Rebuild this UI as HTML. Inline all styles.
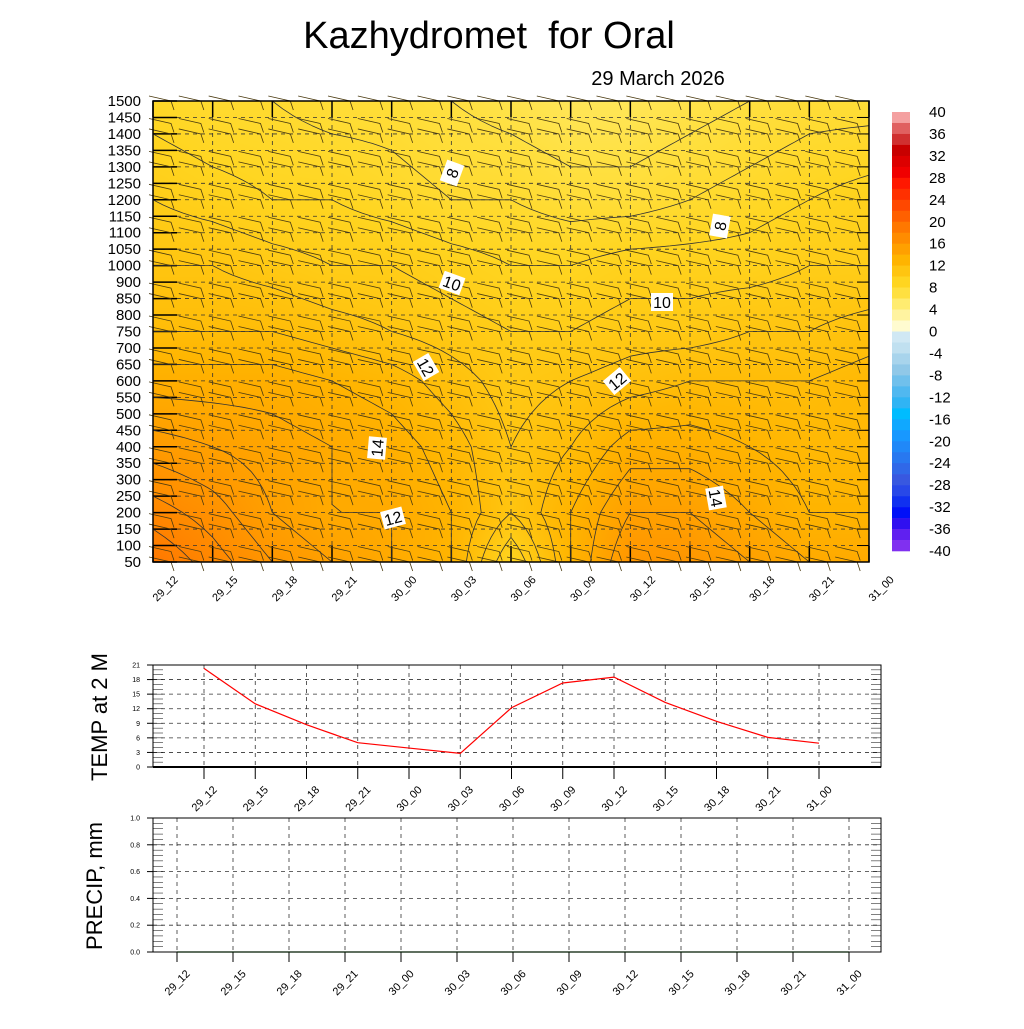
<!DOCTYPE html>
<html><head><meta charset="utf-8"><style>
body{margin:0;background:#fff;font-family:"Liberation Sans",sans-serif}
svg text{font-family:"Liberation Sans",sans-serif}
</style></head><body>
<svg id="s" width="1024" height="1024" xmlns="http://www.w3.org/2000/svg">
<text x="489" y="48" font-size="38" text-anchor="middle" xml:space="preserve" style="white-space:pre">Kazhydromet  for Oral</text>
<text x="658" y="85" font-size="20" text-anchor="middle">29 March 2026</text>
<foreignObject x="153" y="101" width="716" height="461"><canvas xmlns="http://www.w3.org/1999/xhtml" id="cv" width="716" height="461"></canvas></foreignObject>
<g id="main"></g>
<g id="cbar"></g>
<g id="temp"></g>
<g id="prec"></g>
<text transform="translate(107,717) rotate(-90)" font-size="22" text-anchor="middle">TEMP at 2 M</text>
<text transform="translate(102,886) rotate(-90)" font-size="22" text-anchor="middle">PRECIP, mm</text>
</svg>
<script>
const times=["29_12","29_15","29_18","29_21","30_00","30_03","30_06","30_09","30_12","30_15","30_18","30_21","31_00"];
const levels=["1500","1450","1400","1350","1300","1250","1200","1150","1100","1050","1000","900","850","800","750","700","650","600","550","500","450","400","350","300","250","200","150","100","50"];
// temperature field rows at label index (0=1500 ... 28=50)
const fieldRowIdx=[0,6,10,14,17,21,25,28];
const fieldT=[
[8.5,8,8,7.5,7.5,7,6.5,6,6,6.5,7,7.5,7.5],
[10,9.5,9,9,8.5,8,8,7.5,7.5,8,8.5,9,9.5],
[11,11,10.5,10,10,9.5,9,9,9.5,9.5,9.5,10,10],
[12,12,12,11.5,11,10.5,10,10,10.5,10.5,11,11,11.5],
[13.5,13.5,13.5,13,12.5,11.5,10.5,11,11.5,12,12,12,12.5],
[15.5,15,14.5,14,13.5,12.5,11,12,13.5,13.5,13,12.5,12.5],
[17.5,16.5,15,14,14,13,11,13,15,15,14,13,13],
[19,17.5,16,15,14,13,9,13,16,16,15,14,14]];
const t2m=[20.3,13,8.7,5,3.9,2.8,12.2,17.3,18.5,13.3,9.4,6.1,4.9];
const precip=[0,0,0,0,0,0,0,0,0,0,0,0,0];
const cbLabels=[40,36,32,28,24,20,16,12,8,4,0,-4,-8,-12,-16,-20,-24,-28,-32,-36,-40];
const posCols=["#fffbd0","#fff3a0","#ffec70","#ffe040","#ffd520","#ffc510","#ffb400","#ffa000","#ff8c00","#ff7800","#ff6000","#ff4800","#ff3000","#ff1800","#f00000","#dd0000","#c80000","#d03030","#e06060","#f4a0a0"];
const negCols=["#d0e8f4","#c0e0f0","#a8d4ec","#90c8e8","#70c0ec","#50b8f0","#30b4f4","#00bcff","#10a8ff","#1898ff","#2088f8","#2878f0","#3068e8","#3858e0","#2848e8","#1030f0","#0010f8","#3010f0","#6020f0","#8030f0"];
const NS="http://www.w3.org/2000/svg";
function el(p,t,a){const e=document.createElementNS(NS,t);for(const k in a)e.setAttribute(k,a[k]);p.appendChild(e);return e;}
const MX0=153,MX1=869,MY0=101,MY1=562;
const mx=i=>MX0+i*(MX1-MX0)/(times.length-1);
const my=i=>MY0+i*(MY1-MY0)/(levels.length-1);
function hex(c){return [parseInt(c.slice(1,3),16),parseInt(c.slice(3,5),16),parseInt(c.slice(5,7),16)];}
function tcol(t){
 let arr=t>=0?posCols:negCols;let v=Math.abs(t)/2-0.5;v=Math.max(0,Math.min(arr.length-1,v));
 const i=Math.floor(v),f=v-i,a=hex(arr[i]),b=hex(arr[Math.min(i+1,arr.length-1)]);
 return a.map((x,k)=>x+(b[k]-x)*f);}
function fieldAt(xi,yi){
 let r=0;while(r<fieldRowIdx.length-2&&yi>fieldRowIdx[r+1])r++;
 const fy=Math.max(0,Math.min(1,(yi-fieldRowIdx[r])/(fieldRowIdx[r+1]-fieldRowIdx[r])));
 let c=Math.min(times.length-2,Math.floor(xi));const fx=xi-c;
 const a=fieldT[r][c]*(1-fx)+fieldT[r][c+1]*fx,b=fieldT[r+1][c]*(1-fx)+fieldT[r+1][c+1]*fx;
 return a*(1-fy)+b*fy;}
const cv=document.getElementById('cv'),ctx=cv.getContext('2d'),img=ctx.createImageData(716,461);
for(let y=0;y<461;y++)for(let x=0;x<716;x++){
 const t=fieldAt(x/715*(times.length-1),y/460*(levels.length-1)),c=tcol(t),o=(y*716+x)*4;
 img.data[o]=c[0];img.data[o+1]=c[1];img.data[o+2]=c[2];img.data[o+3]=255;}
ctx.putImageData(img,0,0);
const g=document.getElementById('main');
levels.forEach((l,i)=>{
 const y=my(i);
 const gl=el(g,'line',{x1:MX0,x2:MX1,y1:y,y2:y,stroke:'#333','stroke-width':0.8,'stroke-dasharray':'4,4'});
 
 el(g,'line',{x1:MX0,x2:MX0+24,y1:y,y2:y,stroke:'#000','stroke-width':1.5});
 el(g,'line',{x1:MX1-12,x2:MX1,y1:y,y2:y,stroke:'#000','stroke-width':1});
 const t=el(g,'text',{x:MX0-12,y:y+5,'font-size':15,'text-anchor':'end'});t.textContent=l;
 
});
times.forEach((tm,i)=>{
 const x=mx(i);
 el(g,'line',{x1:x,x2:x,y1:MY0,y2:MY1,stroke:'#333','stroke-width':0.8,'stroke-dasharray':'4,4'});
 el(g,'line',{x1:x,x2:x,y1:MY0,y2:MY0+16,stroke:'#000','stroke-width':1.5});
 el(g,'line',{x1:x,x2:x,y1:MY1-16,y2:MY1,stroke:'#000','stroke-width':1.5});
 const t=el(g,'text',{transform:`translate(${x+4},${MY1+40}) rotate(-45)`,'font-size':11});t.textContent=tm;
 
});
for(let i=0;i<levels.length;i++)for(let j=0;j<2*(times.length-1)+1;j++){
 const x=MX0+12+j*(MX1-MX0)/24,y=my(i)+(i%2?4:-2);if(x>MX1-4)continue;
 el(g,'path',{d:`M${x-16},${y-3}L${x+6},${y+2}L${x+9},${y+11}`,stroke:'#4a3a10',fill:'none','stroke-width':0.8});
}
const NX=73,NY=57,grid=[];
for(let r=0;r<NY;r++){grid.push([]);for(let c=0;c<NX;c++)grid[r].push(fieldAt(c/(NX-1)*(times.length-1),r/(NY-1)*(levels.length-1)));}
const px=c=>MX0+c/(NX-1)*(MX1-MX0),py=r=>MY0+r/(NY-1)*(MY1-MY0);
for(let lv=7;lv<=18;lv++){
 let d='';
 for(let r=0;r<NY-1;r++)for(let c=0;c<NX-1;c++){
  const v=[grid[r][c],grid[r][c+1],grid[r+1][c+1],grid[r+1][c]];
  const P=[[c,r],[c+1,r],[c+1,r+1],[c,r+1]],pts=[];
  for(let k=0;k<4;k++){const a=v[k],b=v[(k+1)%4];if((a<lv)!==(b<lv)){const f=(lv-a)/(b-a),A=P[k],B=P[(k+1)%4];pts.push([px(A[0]+(B[0]-A[0])*f),py(A[1]+(B[1]-A[1])*f)]);}}
  for(let k=0;k+1<pts.length;k+=2)d+=`M${pts[k][0].toFixed(1)},${pts[k][1].toFixed(1)}L${pts[k+1][0].toFixed(1)},${pts[k+1][1].toFixed(1)}`;
 }
 if(d){const p=el(g,'path',{d,stroke:'#333',fill:'none','stroke-width':0.8});}
}
[[452,173,8,-70],[720,226,8,-80],[452,283,10,20],[662,302,10,0],[426,367,12,60],[617,381,12,-40],[377,448,14,-85],[393,518,12,-15],[716,498,14,80]].forEach(a=>{
 const gg=el(g,'g',{transform:`translate(${a[0]},${a[1]}) rotate(${a[3]})`});
 
 el(gg,'rect',{x:-11,y:-9,width:22,height:18,fill:'#fff'});
 const t=el(gg,'text',{x:0,y:6,'font-size':16,'text-anchor':'middle'});t.textContent=a[2];
});
el(g,'rect',{x:MX0,y:MY0,width:MX1-MX0,height:MY1-MY0,fill:'none',stroke:'#000','stroke-width':1.5});
const cb=document.getElementById('cbar');const CB0=112,CB1=551,bh=(CB1-CB0)/40;
for(let k=0;k<40;k++){const t=40-2*k-1;const col=t>0?posCols[Math.floor(t/2)]:negCols[Math.floor(-t/2)];
 const r=el(cb,'rect',{x:892,y:CB0+k*bh,width:18,height:bh+0.3,fill:col});}
cbLabels.forEach((l,i)=>{const t=el(cb,'text',{x:929,y:CB0+i*2*bh+5,'font-size':15});t.textContent=l;});
const tg=document.getElementById('temp');const TX0=153,TX1=881,TY0=665,TY1=767;
const tx=i=>204+i*(819-204)/12,ty=v=>TY1-v/21*(TY1-TY0);
for(let v=0;v<=21;v+=3){const y=ty(v);
 if(v>0&&v<21)el(tg,'line',{x1:TX0,x2:TX1,y1:y,y2:y,stroke:'#333','stroke-width':0.8,'stroke-dasharray':'4,4'});
 el(tg,'line',{x1:TX0-6,x2:TX0,y1:y,y2:y,stroke:'#000'});
 const t=el(tg,'text',{x:TX0-13,y:y+2.5,'font-size':7,'text-anchor':'end'});t.textContent=v;}
for(let v=0;v<=21;v+=1){el(tg,'line',{x1:TX0,x2:TX0+10,y1:ty(v),y2:ty(v),stroke:'#000','stroke-width':0.5});el(tg,'line',{x1:TX1-10,x2:TX1,y1:ty(v),y2:ty(v),stroke:'#000','stroke-width':0.5});}
times.forEach((tm,i)=>{const x=tx(i);
 el(tg,'line',{x1:x,x2:x,y1:TY0,y2:TY1,stroke:'#333','stroke-width':0.8,'stroke-dasharray':'4,4'});
 el(tg,'line',{x1:x,x2:x,y1:TY1,y2:TY1+12,stroke:'#000'});
 const t=el(tg,'text',{transform:`translate(${x-8},${TY1+45}) rotate(-45)`,'font-size':11});t.textContent=tm;});
const tl=el(tg,'polyline',{points:t2m.map((v,i)=>tx(i)+','+ty(v)).join(' '),fill:'none',stroke:'#f00','stroke-width':1.2});

el(tg,'rect',{x:TX0,y:TY0,width:TX1-TX0,height:TY1-TY0,fill:'none',stroke:'#000','stroke-width':1});
el(tg,'line',{x1:TX0,x2:TX1,y1:TY1,y2:TY1,stroke:'#000','stroke-width':2});
const pg=document.getElementById('prec');const PY0=818,PY1=952;
const ppx=i=>177+i*(849-177)/12,ppy=v=>PY1-v*(PY1-PY0);
for(let k=0;k<=5;k++){const v=k*0.2,y=ppy(v);
 if(k>0&&k<5)el(pg,'line',{x1:TX0,x2:TX1,y1:y,y2:y,stroke:'#333','stroke-width':0.8,'stroke-dasharray':'4,4'});
 el(pg,'line',{x1:TX0-6,x2:TX0,y1:y,y2:y,stroke:'#000'});
 const t=el(pg,'text',{x:TX0-13,y:y+2.5,'font-size':7,'text-anchor':'end'});t.textContent=v.toFixed(1);}
for(let k=0;k<=25;k++){const y=ppy(k*0.04);el(pg,'line',{x1:TX0,x2:TX0+10,y1:y,y2:y,stroke:'#000','stroke-width':0.5});el(pg,'line',{x1:TX1-10,x2:TX1,y1:y,y2:y,stroke:'#000','stroke-width':0.5});}
times.forEach((tm,i)=>{const x=ppx(i);
 el(pg,'line',{x1:x,x2:x,y1:PY0,y2:PY1,stroke:'#333','stroke-width':0.8,'stroke-dasharray':'4,4'});
 el(pg,'line',{x1:x,x2:x,y1:PY1,y2:PY1+10,stroke:'#000'});
 const t=el(pg,'text',{transform:`translate(${x-8},${PY1+44}) rotate(-45)`,'font-size':11});t.textContent=tm;});
const pl=el(pg,'polyline',{points:precip.map((v,i)=>ppx(i)+','+ppy(v)).join(' '),fill:'none',stroke:'#080','stroke-width':1.2});

el(pg,'rect',{x:TX0,y:PY0,width:TX1-TX0,height:PY1-PY0,fill:'none',stroke:'#000','stroke-width':1});
</script>
</body></html>
